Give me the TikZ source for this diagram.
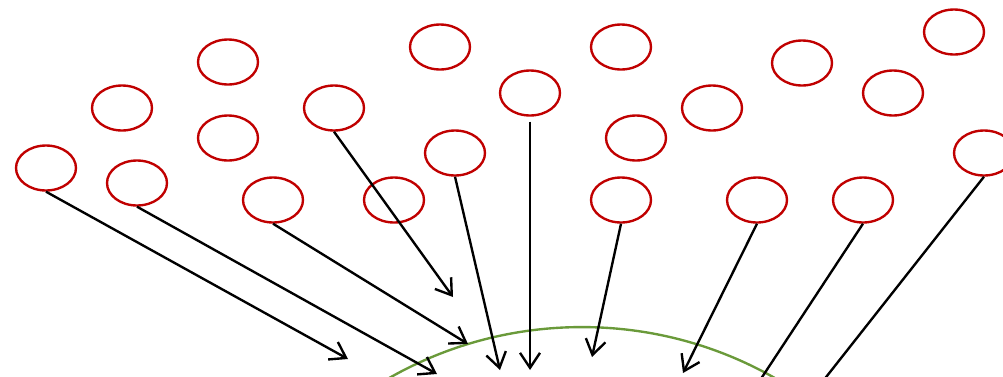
\documentclass[tikz,border=0pt]{standalone}
\usetikzlibrary{arrows.meta,shapes.geometric}
\definecolor{cred}{RGB}{192,0,0}
\definecolor{cgreen}{RGB}{106,154,58}
\begin{document}
\begin{tikzpicture}[x=0.02cm,y=-0.02cm,
  blob/.style={ellipse,draw=cred,line width=1.35pt,minimum width=1.2cm,minimum height=0.9cm,inner sep=0pt},
  ray/.style={line width=1.35pt,-{Straight Barb[length=0.3cm,width=0.4cm,line width=1.35pt]}},
  rayplain/.style={line width=1.35pt}]
\useasboundingbox (0,0) rectangle (1003,376);
\clip (0,0) rectangle (1003,376);
\node[blob] (e1) at (46,168) {};
\node[blob] (e2) at (122,108) {};
\node[blob] (e3) at (228,62) {};
\node[blob] (e4) at (228,138) {};
\node[blob] (e5) at (137,183) {};
\node[blob] (e6) at (273,200) {};
\node[blob] (e7) at (334,108) {};
\node[blob] (e8) at (394,200) {};
\node[blob] (e9) at (440,47) {};
\node[blob] (e10) at (455,153) {};
\node[blob] (e11) at (530,93) {};
\node[blob] (e12) at (621,47) {};
\node[blob] (e13) at (636,138) {};
\node[blob] (e14) at (621,200) {};
\node[blob] (e15) at (712,108) {};
\node[blob] (e16) at (802,63) {};
\node[blob] (e17) at (757,200) {};
\node[blob] (e18) at (863,200) {};
\node[blob] (e19) at (893,93) {};
\node[blob] (e20) at (954,32) {};
\node[blob] (e21) at (984,153) {};
\draw[cgreen,line width=1.35pt] (582,717) circle [radius=7.8cm];
\coordinate (t1) at (348,359);
\coordinate (t2) at (437,374);
\coordinate (t3) at (468,344);
\coordinate (t4) at (453,297);
\coordinate (t5) at (500,370);
\coordinate (t6) at (530,370);
\coordinate (t7) at (592,357);
\coordinate (t8) at (683,373);
\coordinate (t9) at (747,400);
\coordinate (t10) at (808,400);
\draw[ray] (e1.south) -- (t1);
\draw[ray] (e5.south) -- (t2);
\draw[ray] (e6.south) -- (t3);
\draw[ray] (e7.south) -- (t4);
\draw[ray] (e10.south) -- (t5);
\draw[ray,shorten <=0.1cm] (e11.south) -- (t6);
\draw[ray] (e14.south) -- (t7);
\draw[ray] (e17.south) -- (t8);
\draw[rayplain] (e18.south) -- (t9);
\draw[rayplain] (e21.south) -- (t10);
\end{tikzpicture}
\end{document}
